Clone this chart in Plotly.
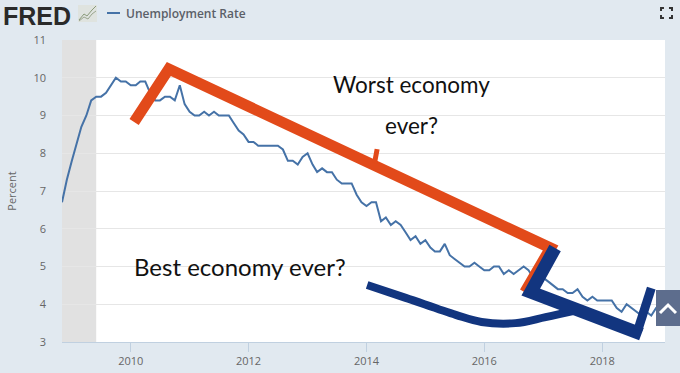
import plotly.graph_objects as go

BG = "#e1e9f0"
START = "2008-11-01"
rate_dates = [f"{y}-{m:02d}-01" for y in range(2008, 2020) for m in range(1, 13)]
rate_dates = rate_dates[10:-11]
rate = [6.7, 7.3,
        7.8, 8.3, 8.7, 9.0, 9.4, 9.5, 9.5, 9.6, 9.8, 10.0, 9.9, 9.9,
        9.8, 9.8, 9.9, 9.9, 9.6, 9.4, 9.4, 9.5, 9.5, 9.4, 9.8, 9.3,
        9.1, 9.0, 9.0, 9.1, 9.0, 9.1, 9.0, 9.0, 9.0, 8.8, 8.6, 8.5,
        8.3, 8.3, 8.2, 8.2, 8.2, 8.2, 8.2, 8.1, 7.8, 7.8, 7.7, 7.9,
        8.0, 7.7, 7.5, 7.6, 7.5, 7.5, 7.3, 7.2, 7.2, 7.2, 6.9, 6.7,
        6.6, 6.7, 6.7, 6.2, 6.3, 6.1, 6.2, 6.1, 5.9, 5.7, 5.8, 5.6,
        5.7, 5.5, 5.4, 5.4, 5.6, 5.3, 5.2, 5.1, 5.0, 5.0, 5.1, 5.0,
        4.9, 4.9, 5.0, 5.0, 4.8, 4.9, 4.8, 4.9, 5.0, 4.9, 4.7, 4.7,
        4.7, 4.6, 4.5, 4.4, 4.4, 4.3, 4.3, 4.4, 4.2, 4.1, 4.2, 4.1,
        4.1, 4.1, 4.1, 3.9, 3.8, 4.0, 3.9, 3.8, 3.7, 3.8, 3.7, 3.9,
        4.0]

worst_dates = ["2010-01-22", "2010-08-25", "2017-02-15", "2016-09-08"]
worst_vals = [8.83, 10.23, 5.49, 4.32]
mark_dates = ["2014-02-20", "2014-03-08"]
mark_vals = [7.74, 8.11]
best_curve_dates = ["2014-01-05", "2014-09-01", "2015-07-08", "2015-12-15",
                    "2016-07-12", "2017-01-15", "2017-08-08"]
best_curve_vals = [4.51, 4.17, 3.72, 3.53, 3.50, 3.66, 3.85]
best_bar_dates = ["2017-03-15", "2016-10-15", "2018-09-01"]
best_bar_vals = [5.49, 4.32, 3.21]
best_tail_dates = ["2018-08-10", "2018-11-01"]
best_tail_vals = [3.32, 4.43]

ORANGE = "#e24a1a"
NAVY = "#12357f"
L, R, T, B = 62, 15, 40, 31
PW, PH = 680 - L - R, 373 - T - B

fig = go.Figure()
fig.add_trace(go.Scatter(x=rate_dates, y=rate, mode="lines",
                         line=dict(color="#4572a7", width=2), name="Unemployment Rate"))
fig.add_trace(go.Scatter(x=worst_dates, y=worst_vals, mode="lines",
                         line=dict(color=ORANGE, width=11, shape="linear")))
fig.add_trace(go.Scatter(x=mark_dates, y=mark_vals, mode="lines",
                         line=dict(color=ORANGE, width=5)))
fig.add_trace(go.Scatter(x=best_curve_dates, y=best_curve_vals, mode="lines",
                         line=dict(color=NAVY, width=8, shape="spline")))
fig.add_trace(go.Scatter(x=best_bar_dates, y=best_bar_vals, mode="lines",
                         line=dict(color=NAVY, width=13)))
fig.add_trace(go.Scatter(x=best_tail_dates, y=best_tail_vals, mode="lines",
                         line=dict(color=NAVY, width=9)))


def px(v):
    return (v - L) / PW


def py(v):
    return 1 - (v - T) / PH


def path(pts):
    return "M " + " L ".join(f"{px(a):.4f} {py(b):.4f}" for a, b in pts)


shapes = [
    dict(type="rect", xref="x", yref="paper", x0=START, x1="2009-06-01", y0=0, y1=1,
         fillcolor="#e1e1e1", line_width=0, layer="below"),
    dict(type="line", xref="paper", yref="paper", x0=px(107), x1=px(120),
         y0=py(13), y1=py(13), line=dict(color="#4572a7", width=2)),
    dict(type="rect", xref="paper", yref="paper", x0=px(656), x1=px(680),
         y0=py(326), y1=py(290), fillcolor="#5d6d8d", line_width=0),
    dict(type="path", xref="paper", yref="paper",
         path=path([(660, 313), (668, 305), (676, 313)]), line=dict(color="white", width=3)),
]
for (ax, ay, dx, dy) in [(661, 8, 1, 1), (672, 8, -1, 1), (661, 18, 1, -1), (672, 18, -1, -1)]:
    shapes.append(dict(type="path", xref="paper", yref="paper",
                       path=path([(ax + 3 * dx, ay), (ax, ay), (ax, ay + 3 * dy)]),
                       line=dict(color="#333333", width=2)))
shapes.append(dict(type="rect", xref="paper", yref="paper", x0=px(78), x1=px(97),
                   y0=py(22), y1=py(5), fillcolor="#dfe3df", line_width=0))
for pts, col in [([(79, 20), (84, 14), (87, 16), (92, 10), (96, 6)], "#8a9a7a"),
                 ([(79, 21), (84, 17), (88, 19), (92, 14), (96, 11)], "#9aa58e")]:
    shapes.append(dict(type="path", xref="paper", yref="paper", path=path(pts),
                       line=dict(color=col, width=1)))

HAND = "Lato"


def note(text, x, y, anchor, size, family, color, weight=None, yanchor="middle"):
    font = dict(family=family, size=size, color=color)
    if weight:
        font["weight"] = weight
    return dict(text=text, x=px(x), y=py(y), xref="paper", yref="paper",
                xanchor=anchor, yanchor=yanchor, showarrow=False, font=font)


annotations = [
    note("<b>FRED</b>", 1, 0, "left", 25, "Liberation Sans", "#2a2a2a", yanchor="top"),
    note("Unemployment Rate", 124, 13.5, "left", 12, "Open Sans", "#5b6068", 600),
    note("Worst economy", 411, 84, "center", 22.5, HAND, "#111111"),
    note("ever?", 411, 125, "center", 22.5, HAND, "#111111"),
    note("Best economy ever?", 240, 266, "center", 24, HAND, "#111111"),
]

fig.update_layout(
    width=680, height=373,
    margin=dict(l=L, r=R, t=T, b=B, pad=0),
    paper_bgcolor=BG, plot_bgcolor="white",
    showlegend=False, shapes=shapes, annotations=annotations,
    font=dict(family="Open Sans", size=11, color="#666666"),
    xaxis=dict(type="date", range=[START, "2019-01-25"], automargin=False,
               tickvals=["2010-01-01", "2012-01-01", "2014-01-01", "2016-01-01", "2018-01-01"],
               ticktext=["2010", "2012", "2014", "2016", "2018"],
               showgrid=False, zeroline=False, showline=True, linecolor="#c0d0e0", linewidth=1,
               ticks="outside", ticklen=9, tickcolor="#c0d0e0", tickwidth=1),
    yaxis=dict(range=[3, 11], dtick=1, tick0=3, gridcolor="#e6e6e6", gridwidth=1, automargin=False,
               zeroline=False, showline=False, ticks="", ticklabelstandoff=15,
               title=dict(text="Percent", standoff=14, font=dict(size=11, color="#666666"))),
)
fig.write_html("out.html", config=dict(displayModeBar=False),
               post_script="document.body.style.margin='0';document.body.style.background='#e1e9f0';")
